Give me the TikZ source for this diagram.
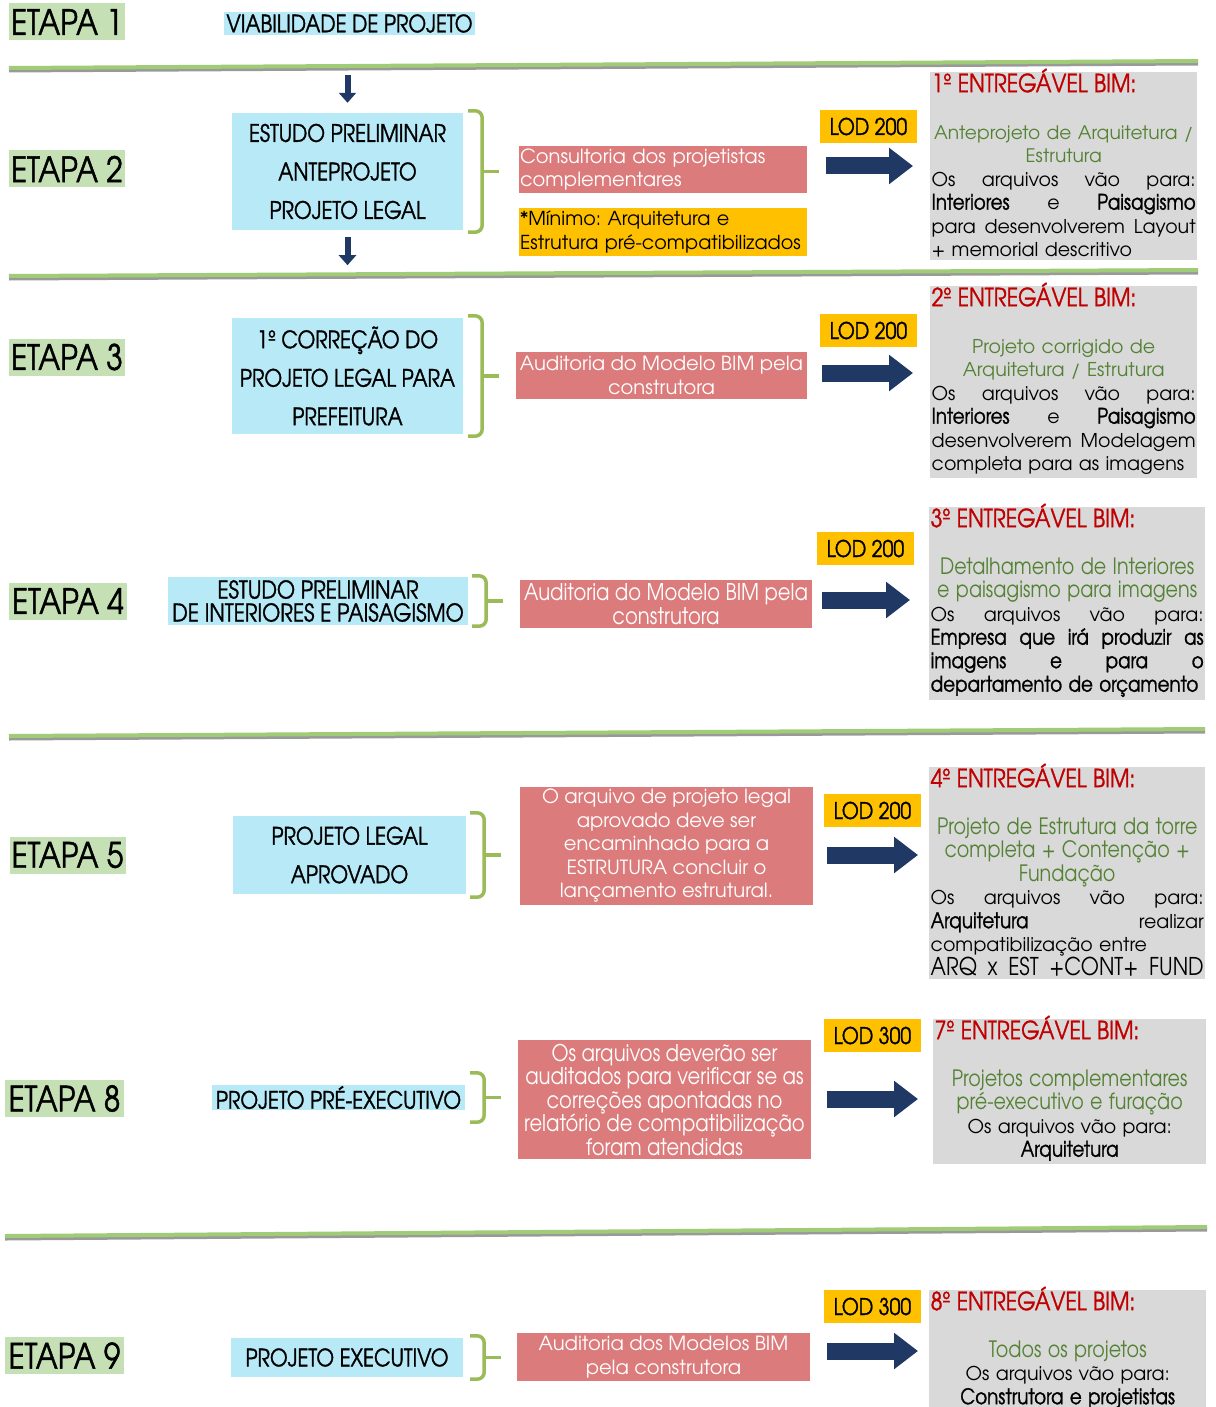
\documentclass[tikz,border=0pt]{standalone}
\usepackage{fontspec}
\IfFontExistsTF{texgyreadventor-regular.otf}{%
  \setmainfont{texgyreadventor}[Extension=.otf,UprightFont=*-regular,BoldFont=*-bold]
  \newfontfamily\twcen{texgyreadventor}[Extension=.otf,UprightFont=*-regular,BoldFont=*-bold,FakeStretch=0.85]
  \newfontfamily\twcenm{texgyreadventor}[Extension=.otf,UprightFont=*-regular,BoldFont=*-bold,FakeStretch=0.85,FakeBold=1.2]
}{%
  \setmainfont{Poppins}
  \newfontfamily\twcen{Poppins}[FakeStretch=0.85]
  \newfontfamily\twcenm{Poppins}[FakeStretch=0.85,FakeBold=1.2]
}
\usetikzlibrary{arrows.meta,calc}
\frenchspacing

\definecolor{etapagreen}{RGB}{197,224,180}
\definecolor{boxblue}{RGB}{183,233,247}
\definecolor{boxred}{RGB}{220,123,123}
\definecolor{lodyellow}{RGB}{255,192,0}
\definecolor{boxgrey}{RGB}{217,217,217}
\definecolor{navy}{RGB}{31,56,100}
\definecolor{titlered}{RGB}{192,0,0}
\definecolor{textgreen}{RGB}{84,130,53}
\definecolor{rulegreen}{RGB}{160,204,120}
\definecolor{braceg}{RGB}{155,187,89}

\newcommand\etapafont{\twcenm\fontsize{35}{35}\selectfont}
\newcommand\bluefont{\twcenm\fontsize{24}{38.5}\selectfont}
\newcommand\lodfont{\twcenm\fontsize{23}{23}\selectfont}
\newcommand\titlefont{\twcenm\fontsize{25}{23.5}\selectfont\color{titlered}}
\newcommand\bodyfont{\fontsize{19}{23.5}\selectfont}
\newcommand\redfont{\fontsize{19.5}{23.5}\selectfont}
\newcommand\twbody{\twcenm\fontsize{21.5}{23.5}\selectfont}
\newcommand\twgreen{\twcen\fontsize{22.5}{23.5}\selectfont\color{textgreen}}
% one justified line, words separated by \hfill
\newcommand\jl[1]{\hbox to\hsize{#1}}
\newcommand\gtitle[1]{{\titlefont\raisebox{0pt}[17pt][0pt]{#1}\par}\vspace{23.5pt}}

\tikzset{
  etapa/.style={fill=etapagreen, minimum width=116pt, minimum height=37pt, inner sep=0pt, font=\etapafont},
  bluebox/.style={fill=boxblue, inner sep=0pt, align=center, font=\bluefont},
  redbox/.style={fill=boxred, text=white, inner sep=2pt, align=center, font=\redfont},
  lodbox/.style={fill=lodyellow, minimum width=97pt, minimum height=33pt, inner sep=0pt, font=\lodfont},
  greybox/.style={fill=boxgrey, anchor=north west, inner xsep=1.5pt, inner ysep=3pt, font=\bodyfont,
    execute at begin node={\setlength{\parindent}{0pt}}},
  rule/.style={line width=4pt, rulegreen},
  ruleshadow/.style={line width=4pt, black!40},
  downarrow/.style={navy, line width=6pt, -{Triangle[length=10pt,width=17pt]}},
  blockarrow/.style={navy, line width=17pt, -{Triangle[length=24pt,width=35pt]}},
  bracket/.style={braceg, line width=3.5pt, rounded corners=7pt},
}

% bracket to the right of a node: node, gap, extension
\newcommand\bracketfor[3]{%
  \draw[bracket] ($(#1.north east)+(#2,-#3)$) -- ++(14,0) -- ($(#1.south east)+(#2+14,#3)$) -- ++(-14,0);
  \draw[bracket, rounded corners=0pt] ($(#1.east)+(#2+14,0)$) -- ++(17,0);
}

\begin{document}
\begin{tikzpicture}[x=1pt, y=-1pt]
\useasboundingbox (0,0) rectangle (1215,1407);

% separating rules
\draw[ruleshadow] (9,70.5) -- (1198,63.5);
\draw[rule] (9,68) -- (1198,61);
\draw[ruleshadow] (9,278.5) -- (1198,272.5);
\draw[rule] (9,276) -- (1198,270);
\draw[ruleshadow] (9,738.5) -- (1205,731.5);
\draw[rule] (9,736) -- (1205,729);
\draw[ruleshadow] (5,1238.5) -- (1207,1229.5);
\draw[rule] (5,1236) -- (1207,1227);

% etapas
\node[etapa] (e1) at (67,22) {ETAPA 1};
\node[etapa] (e2) at (67,169) {ETAPA 2};
\node[etapa] (e3) at (67,357) {ETAPA 3};
\node[etapa, minimum width=118pt] (e4) at (68,601) {ETAPA 4};
\node[etapa] (e5) at (67.5,855) {ETAPA 5};
\node[etapa, minimum width=119pt] (e8) at (64.5,1098.5) {ETAPA 8};
\node[etapa, minimum width=119pt] (e9) at (64.5,1355.5) {ETAPA 9};

% projetos
\node[bluebox, minimum width=251pt, minimum height=23pt] (b1) at (349.5,23.5) {VIABILIDADE DE PROJETO};
\node[bluebox, minimum width=231pt, minimum height=117pt] (b2) at (347.5,171.5) {ESTUDO PRELIMINAR\\ANTEPROJETO\\PROJETO LEGAL};
\node[bluebox, minimum width=231pt, minimum height=116pt] (b3) at (347.5,376) {1º CORREÇÃO DO\\PROJETO LEGAL PARA\\PREFEITURA};
\node[bluebox, minimum width=300pt, minimum height=48pt, font=\twcenm\fontsize{24.5}{23}\selectfont] (b4) at (318,601) {ESTUDO PRELIMINAR\\DE INTERIORES E PAISAGISMO};
\node[bluebox, minimum width=233pt, minimum height=78pt] (b5) at (349.5,855) {PROJETO LEGAL\\APROVADO};
\node[bluebox, minimum width=253pt, minimum height=25pt] (b8) at (338.5,1097.5) {PROJETO PRÉ-EXECUTIVO};
\node[bluebox, minimum width=232pt, minimum height=39pt] (b9) at (347,1357.5) {PROJETO EXECUTIVO};

\draw[downarrow] ([yshift=38pt]b2.north) -- ([yshift=10pt]b2.north);
\draw[downarrow] ([yshift=-7pt]b2.south) -- ([yshift=-35pt]b2.south);

\bracketfor{b2}{5}{2}
\bracketfor{b3}{5}{2}
\bracketfor{b4}{4}{1}
\bracketfor{b5}{4}{3}
\bracketfor{b8}{5}{12}
\bracketfor{b9}{7}{2}

% auditorias
\node[redbox, align=left, inner xsep=1pt, text width=286pt, minimum width=288pt, minimum height=47pt] (r2) at (663,169.5) {Consultoria dos projetistas\\complementares};
\node[redbox, fill=lodyellow, text=black, align=left, inner xsep=1pt, text width=286pt, minimum width=288pt, minimum height=48pt, font=\fontsize{19.2}{23.5}\selectfont] (y2) at (663,232) {*Mínimo: Arquitetura e\\Estrutura pré-compatibilizados};
\node[redbox, minimum width=291pt, minimum height=47pt] (r3) at (661.5,375.5) {Auditoria do Modelo BIM pela\\construtora};
\node[redbox, minimum width=292pt, minimum height=48pt, font=\twcen\fontsize{23}{23.5}\selectfont] (r4) at (666,604) {Auditoria do Modelo BIM pela\\construtora};
\node[redbox, minimum width=293pt, minimum height=118pt] (r5) at (666.5,846) {O arquivo de projeto legal\\aprovado deve ser\\encaminhado para a\\ESTRUTURA concluir o\\lançamento estrutural.};
\node[redbox, minimum width=293pt, minimum height=119pt, font=\twcen\fontsize{23}{23.5}\selectfont] (r8) at (664.5,1099.5) {Os arquivos deverão ser\\auditados para verificar se as\\correções apontadas no\\relatório de compatibilização\\foram atendidas};
\node[redbox, minimum width=293pt, minimum height=48pt] (r9) at (663.5,1357) {Auditoria dos Modelos BIM\\pela construtora};

% LOD
\node[lodbox] (l2) at (868.5,126.5) {LOD 200};
\node[lodbox] (l3) at (868.5,330.5) {LOD 200};
\node[lodbox] (l4) at (865.5,548.5) {LOD 200};
\node[lodbox] (l5) at (872.5,810.5) {LOD 200};
\node[lodbox] (l8) at (872.5,1035.5) {LOD 300};
\node[lodbox] (l9) at (872.5,1306.5) {LOD 300};

\coordinate (a2) at (826,166);
\coordinate (a3) at (822,373);
\coordinate (a4) at (822,600);
\coordinate (a5) at (827,855);
\coordinate (a8) at (827,1099);
\coordinate (a9) at (827,1351);
\draw[blockarrow] (a2) -- ++(87,0);
\draw[blockarrow] (a3) -- ++(91,0);
\draw[blockarrow] (a4) -- ++(88,0);
\draw[blockarrow] (a5) -- ++(91,0);
\draw[blockarrow] (a8) -- ++(91,0);
\draw[blockarrow] (a9) -- ++(91,0);

% entregaveis
\node[greybox, text width=264pt] (g1) at (930,72) {%
\gtitle{1º ENTREGÁVEL BIM:}
{\centering\color{textgreen}\fontsize{18.6}{23.5}\selectfont Anteprojeto de Arquitetura /\\Estrutura\par}
\jl{Os\hfill arquivos\hfill vão\hfill para:}
\jl{{\twbody Interiores}\hfill e\hfill {\twbody Paisagismo}}
\jl{para\hfill desenvolverem\hfill Layout}
+ memorial descritivo\par};

\node[greybox, text width=264pt] (g2) at (930,286) {%
\gtitle{2º ENTREGÁVEL BIM:}
{\centering\color{textgreen}Projeto corrigido de\\Arquitetura / Estrutura\par}
\jl{Os\hfill arquivos\hfill vão\hfill para:}
\jl{{\twbody Interiores}\hfill e\hfill {\twbody Paisagismo}}
\jl{desenvolverem\hfill Modelagem}
completa para as imagens\par};

\node[greybox, text width=273pt] (g3) at (929,507) {%
\gtitle{3º ENTREGÁVEL BIM:}
{\centering\twgreen Detalhamento de Interiores\\e paisagismo para imagens\par}
\jl{Os\hfill arquivos\hfill vão\hfill para:}
{\twbody\jl{Empresa\hfill que\hfill irá\hfill produzir\hfill as}
\jl{imagens\hfill e\hfill para\hfill o}
departamento de orçamento\par}};

\node[greybox, text width=273pt] (g4) at (929,767) {%
\gtitle{4º ENTREGÁVEL BIM:}
{\centering\twgreen Projeto de Estrutura da torre\\completa + Contenção +\\Fundação\par}
\jl{Os\hfill arquivos\hfill vão\hfill para:}
\jl{{\twbody Arquitetura}\hfill realizar}
compatibilização entre\par
{\twcen\fontsize{24.5}{23.5}\selectfont\jl{ARQ\hfill x\hfill EST\hfill +CONT+\hfill FUND}}};

\node[greybox, text width=270pt] (g7) at (933,1019) {%
\gtitle{7º ENTREGÁVEL BIM:}
{\centering\twgreen Projetos complementares\\pré-executivo e furação\par}
{\centering Os arquivos vão para:\\{\twbody Arquitetura}\par}};

\node[greybox, text width=274pt] (g8) at (929,1290) {%
\gtitle{8º ENTREGÁVEL BIM:}
{\centering\twgreen Todos os projetos\par}
{\centering Os arquivos vão para:\\{\twbody Construtora e projetistas}\par}};
\end{tikzpicture}
\end{document}
